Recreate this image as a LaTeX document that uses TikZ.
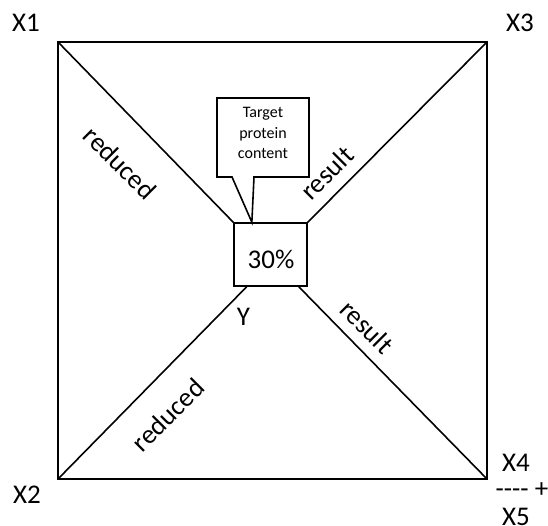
\documentclass[tikz,border=0pt]{standalone}
\usepackage{fontspec}
\setmainfont{Carlito}
\usetikzlibrary{calc}
\tikzset{
  edge/.style={line width=1.6pt, line cap=round, line join=miter},
  lab/.style={inner sep=0pt, font=\fontsize{27}{31}\selectfont},
  small/.style={inner sep=0pt, align=center, font=\fontsize{16}{20.5}\selectfont},
}
\begin{document}
\begin{tikzpicture}[x=1pt,y=-1pt]
\useasboundingbox (0,0) rectangle (548,526);
\coordinate (c1) at (58,42);
\coordinate (c3) at (487,42);
\coordinate (c2) at (58,479);
\coordinate (c4) at (487,479);
\draw[edge] (c1) rectangle (c4);
\node[draw, line width=1.6pt, minimum width=73pt, minimum height=63pt, inner sep=0pt] (box) at (270.5,254.5) {};
\node[lab] (pct) at (271,259) {30\%};
\coordinate (bl) at ($(box.south west)!0.18!(box.south east)$);
\coordinate (br) at ($(box.south west)!0.88!(box.south east)$);
\coordinate (tip) at ($(box.north west)!0.25!(box.north east)$);
\draw[edge] (c1) -- (box.north west);
\draw[edge] (c3) -- (box.north east);
\draw[edge] (c2) -- (bl);
\draw[edge] (c4) -- (br);
% callout
\coordinate (k1) at (217,98);
\coordinate (k2) at (309,98);
\coordinate (k3) at (309,177);
\coordinate (k4) at (254,177);
\coordinate (k5) at (232,177);
\coordinate (k6) at (217,177);
\draw[edge, line cap=butt, fill=white] (k1) -- (k2) -- (k3) -- (k4) -- (tip) -- (k5) -- (k6) -- cycle;
\node[small] (callout) at (263,133) {Target\\protein\\content};
% labels
\node[lab] (x1) at (26,23) {X1};
\node[lab] (x3) at (520,23) {X3};
\node[lab] (x2) at (27,495) {X2};
\node[lab] (x4) at (516,463) {X4};
\node[lab] (dash) at (522,490) {-{}-{}-{}- +};
\node[lab] (x5) at (516,517) {X5};
\node[lab] (y) at (243.5,317) {Y};
\node[lab, rotate=-45] (r1) at (120,163) {reduced};
\node[lab, rotate=45] (s1) at (327,173) {result};
\node[lab, rotate=-45] (s2) at (367,327) {result};
\node[lab, rotate=45] (r2) at (168,415) {reduced};
\end{tikzpicture}
\end{document}
